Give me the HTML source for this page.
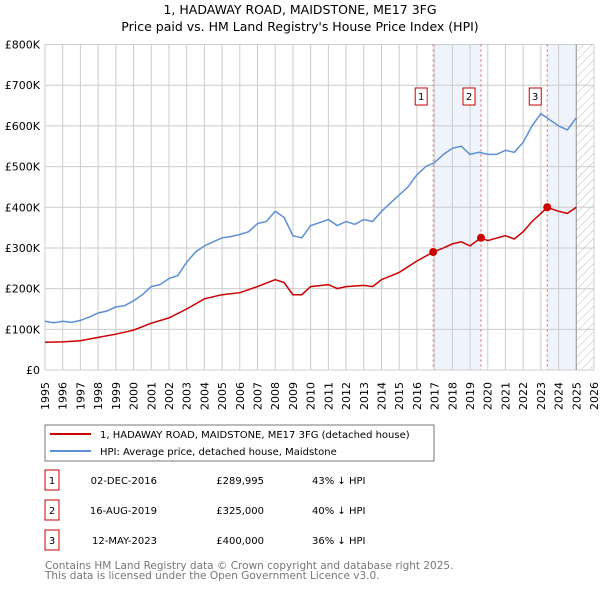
<!DOCTYPE html>
<html><head><meta charset="utf-8"><style>
body{margin:0;background:#fff;font-family:"Liberation Sans","DejaVu Sans",sans-serif;}
svg text{font-family:"DejaVu Sans","Liberation Sans",sans-serif;}
</style></head><body>
<svg id="c" width="600" height="590" xmlns="http://www.w3.org/2000/svg">
<defs><pattern id="h" width="6" height="6" patternUnits="userSpaceOnUse" patternTransform="rotate(45)"><line x1="0" y1="0" x2="0" y2="6" stroke="#bbb" stroke-width="1"/></pattern></defs>
<text x="300" y="14" text-anchor="middle" font-size="12.5">1, HADAWAY ROAD, MAIDSTONE, ME17 3FG</text>
<text x="300" y="31" text-anchor="middle" font-size="12.5">Price paid vs. HM Land Registry's House Price Index (HPI)</text>
<g id="plot"></g>
<rect x="45" y="425" width="389" height="36" fill="#fff" stroke="#777"/>
<line x1="50" y1="434" x2="91" y2="434" stroke="#cc0000" stroke-width="2"/>
<text x="100" y="438" font-size="10">1, HADAWAY ROAD, MAIDSTONE, ME17 3FG (detached house)</text>
<line x1="50" y1="451" x2="91" y2="451" stroke="#5b8fd6" stroke-width="2"/>
<text x="100" y="455" font-size="10">HPI: Average price, detached house, Maidstone</text>
<g id="table" font-size="10"></g>
<text x="45" y="569" font-size="10.5" fill="#777">Contains HM Land Registry data © Crown copyright and database right 2025.</text>
<text x="45" y="579" font-size="10.5" fill="#777">This data is licensed under the Open Government Licence v3.0.</text>
</svg>
<script>
const hpiYears=[1995,1995.5,1996,1996.5,1997,1997.5,1998,1998.5,1999,1999.5,2000,2000.5,2001,2001.5,2002,2002.5,2003,2003.5,2004,2004.5,2005,2005.5,2006,2006.5,2007,2007.5,2008,2008.5,2009,2009.5,2010,2010.5,2011,2011.5,2012,2012.5,2013,2013.5,2014,2014.5,2015,2015.5,2016,2016.5,2017,2017.5,2018,2018.5,2019,2019.5,2020,2020.5,2021,2021.5,2022,2022.5,2023,2023.5,2024,2024.5,2025];
const hpiValues=[120,116,120,117,122,130,140,145,155,158,170,185,205,210,225,232,265,290,305,315,325,328,333,340,360,365,390,375,330,325,355,362,370,355,365,358,370,365,390,410,430,450,480,500,510,530,545,550,530,535,530,530,540,535,560,600,630,615,600,590,620];
const ppYears=[1995,1996,1997,1998,1999,2000,2001,2002,2003,2004,2005,2006,2007,2008,2008.5,2009,2009.5,2010,2011,2011.5,2012,2013,2013.5,2014,2015,2016,2016.92,2017.5,2018,2018.5,2019,2019.62,2020,2021,2021.5,2022,2022.5,2023,2023.36,2024,2024.5,2025];
const ppValues=[68,69,72,80,88,98,115,128,150,175,185,190,205,222,215,185,185,205,210,200,205,208,205,222,240,268,290,300,310,315,305,325,318,330,322,340,365,385,400,390,385,400];
const saleYears=[2016.92,2019.62,2023.36];
const saleValues=[289.995,325,400];
const saleLabels=["1","2","3"];
const saleDates=["02-DEC-2016","16-AUG-2019","12-MAY-2023"];
const salePrices=["£289,995","£325,000","£400,000"];
const saleDiffs=["43% ↓ HPI","40% ↓ HPI","36% ↓ HPI"];
const yTicks=[0,100,200,300,400,500,600,700,800];
const yTickLabels=["£0","£100K","£200K","£300K","£400K","£500K","£600K","£700K","£800K"];
const xTicks=[];for(let y=1995;y<=2026;y++)xTicks.push(y);

const X0=45,X1=594,Y0=370,Y1=44.5;
const xs=y=>X0+(y-1995)/(2026-1995)*(X1-X0);
const ys=v=>Y0-v/800*(Y0-Y1);
const NS="http://www.w3.org/2000/svg";
const g=document.getElementById('plot');
function mk(t,a,p){const e=document.createElementNS(NS,t);for(const k in a)e.setAttribute(k,a[k]);(p||g).appendChild(e);return e;}
let e;
e=mk('rect',{x:xs(saleYears[0]),y:Y1,width:xs(saleYears[1])-xs(saleYears[0]),height:Y0-Y1,fill:'#eef3fc'});

e=mk('rect',{x:xs(saleYears[2]),y:Y1,width:xs(2025)-xs(saleYears[2]),height:Y0-Y1,fill:'#eef3fc'});

e=mk('rect',{x:xs(2025),y:Y1,width:xs(2026)-xs(2025),height:Y0-Y1,fill:'url(#h)'});

xTicks.forEach(y=>{
 e=mk('line',{x1:xs(y),x2:xs(y),y1:Y1,y2:Y0,stroke:'#ccc'});
 
 const tx=xs(y)+4, ty=382;
 e=mk('text',{x:tx,y:ty,'text-anchor':'end','font-size':'11',transform:'rotate(-90 '+tx+' '+ty+')'});e.textContent=y;
 
});
yTicks.forEach((v,i)=>{
 e=mk('line',{x1:X0,x2:X1,y1:ys(v),y2:ys(v),stroke:'#ccc'});
 
 e=mk('text',{x:X0-5,y:ys(v)+4,'text-anchor':'end','font-size':'11'});e.textContent=yTickLabels[i];
 
});
e=mk('line',{x1:xs(2025),x2:xs(2025),y1:Y1,y2:Y0,stroke:'#999'});

saleYears.forEach((y,i)=>{
 e=mk('line',{x1:xs(y),x2:xs(y),y1:Y1,y2:Y0,stroke:'#e55','stroke-dasharray':'2,3'});
 
 e=mk('rect',{x:xs(y)-18,y:88,width:12,height:17,fill:'#fff',stroke:'#c00'});
 
 e=mk('text',{x:xs(y)-12,y:100,'text-anchor':'middle','font-size':'10'});e.textContent=saleLabels[i];
 
});
function path(xa,va){return xa.map((y,i)=>(i?'L':'M')+xs(y).toFixed(1)+','+ys(va[i]).toFixed(1)).join('');}
e=mk('path',{d:path(hpiYears,hpiValues),fill:'none',stroke:'#5b8fd6','stroke-width':1.5});

e=mk('path',{d:path(ppYears,ppValues),fill:'none',stroke:'#cc0000','stroke-width':1.5});

saleYears.forEach((y,i)=>{
 e=mk('circle',{cx:xs(y),cy:ys(saleValues[i]),r:4,fill:'#cc0000'});
 
});
const t=document.getElementById('table');
saleYears.forEach((y,i)=>{
 const ry=483+i*30;
 e=mk('rect',{x:45,y:ry-13,width:14,height:20,fill:'#fff',stroke:'#c00'},t);
 
 e=mk('text',{x:52,y:ry+1,'text-anchor':'middle'},t);e.textContent=saleLabels[i];
 
 e=mk('text',{x:157,y:ry+1,'text-anchor':'end'},t);e.textContent=saleDates[i];
 
 e=mk('text',{x:264,y:ry+1,'text-anchor':'end'},t);e.textContent=salePrices[i];
 
 e=mk('text',{x:312,y:ry+1},t);e.textContent=saleDiffs[i];
 
});
</script>
</body></html>
